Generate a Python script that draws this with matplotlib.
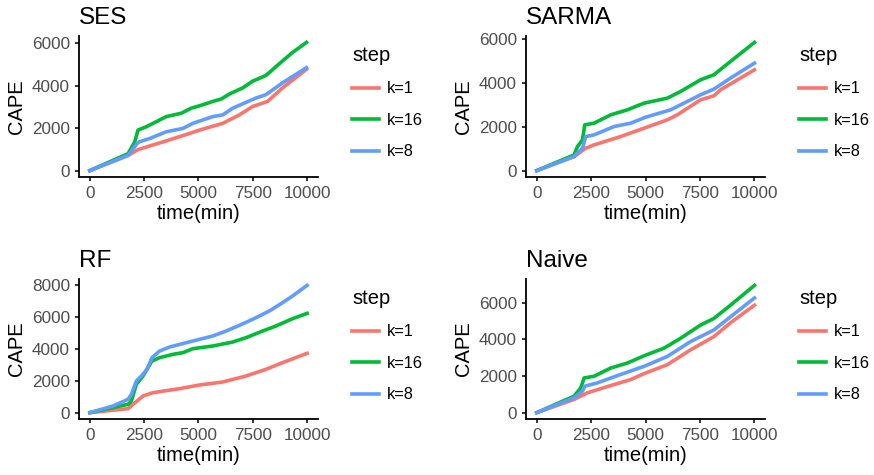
import matplotlib.pyplot as plt
from matplotlib.ticker import MultipleLocator

plt.rcParams['font.family'] = ['Liberation Sans', 'DejaVu Sans']

# ggplot default hue colours for 3 groups
step_labels = ['k=1', 'k=16', 'k=8']
step_colors = ['#F8766D', '#00BA38', '#619CFF']

# SES
ses_t1 = [0, 1758, 2216, 2600, 3517, 4587, 5046, 6116, 6881, 7492, 8180, 8869, 9969]
ses_v1 = [0, 714, 985, 1111, 1397, 1746, 1905, 2222, 2619, 3016, 3254, 3889, 4762]
ses_t16 = [0, 1758, 2064, 2216, 2600, 3517, 4205, 4664, 5046, 5657, 6040, 6422, 7034, 7492, 8104, 8869, 9327, 9969]
ses_v16 = [0, 795, 1349, 1905, 2063, 2540, 2698, 2936, 3047, 3254, 3365, 3603, 3889, 4206, 4476, 5159, 5556, 6031]
ses_t8 = [0, 1758, 2171, 2263, 2752, 3517, 4282, 4740, 5657, 6116, 6575, 7645, 8104, 8869, 9969]
ses_v8 = [0, 714, 1270, 1349, 1508, 1825, 1984, 2222, 2540, 2619, 2936, 3413, 3571, 4127, 4841]

# SARMA
sarma_t1 = [0, 1713, 2248, 2630, 3853, 4924, 5994, 6453, 7523, 8135, 8440, 10000]
sarma_v1 = [0, 638, 1018, 1170, 1549, 1929, 2309, 2537, 3220, 3402, 3676, 4587]
sarma_t16 = [0, 1713, 1865, 2095, 2202, 2630, 3394, 4159, 4924, 5994, 6606, 7523, 8135, 8899, 10000]
sarma_v16 = [0, 714, 1094, 1397, 2081, 2157, 2537, 2765, 3068, 3296, 3600, 4132, 4360, 4967, 5833]
sarma_t8 = [0, 1713, 2095, 2248, 2630, 3547, 4312, 5000, 6147, 7523, 8135, 8899, 10000]
sarma_v8 = [0, 638, 1018, 1549, 1625, 2005, 2157, 2430, 2765, 3448, 3706, 4208, 4891]

# RF
rf_t1 = [0, 1758, 1988, 2446, 2905, 4128, 5046, 6116, 7187, 8104, 8869, 10000]
rf_v1 = [0, 251, 523, 1047, 1256, 1508, 1738, 1926, 2303, 2722, 3141, 3727]
rf_t16 = [0, 1758, 1911, 2141, 2446, 2859, 3211, 3823, 4281, 4740, 5657, 6575, 7187, 7951, 8563, 9327, 10000]
rf_v16 = [0, 523, 733, 1780, 2303, 3246, 3455, 3665, 3769, 4020, 4188, 4439, 4711, 5130, 5444, 5905, 6240]
rf_t8 = [0, 1070, 1758, 1911, 2141, 2370, 2630, 2859, 3211, 3670, 4434, 5046, 5657, 6269, 6881, 7492, 8257, 8869, 9327, 10000]
rf_v8 = [0, 419, 838, 1152, 1989, 2303, 2722, 3455, 3874, 4125, 4397, 4607, 4816, 5130, 5486, 5863, 6387, 6910, 7329, 8000]

# Naive
naive_t1 = [0, 1713, 2324, 3394, 4312, 4924, 5994, 7064, 8135, 8899, 10000]
naive_v1 = [0, 723, 1084, 1482, 1807, 2132, 2620, 3433, 4156, 4915, 5873]
naive_t16 = [0, 1713, 2018, 2171, 2630, 3394, 4159, 4924, 5841, 6606, 7523, 8135, 8899, 10000]
naive_v16 = [0, 903, 1355, 1897, 1988, 2439, 2711, 3108, 3524, 4066, 4789, 5150, 5873, 6957]
naive_t8 = [0, 1713, 2095, 2202, 2783, 3700, 4924, 5994, 7064, 8135, 8899, 10000]
naive_v8 = [0, 813, 1175, 1446, 1626, 2024, 2530, 3072, 3885, 4518, 5240, 6270]

panels = [
    ('SES', [(ses_t1, ses_v1), (ses_t16, ses_v16), (ses_t8, ses_v8)]),
    ('SARMA', [(sarma_t1, sarma_v1), (sarma_t16, sarma_v16), (sarma_t8, sarma_v8)]),
    ('RF', [(rf_t1, rf_v1), (rf_t16, rf_v16), (rf_t8, rf_v8)]),
    ('Naive', [(naive_t1, naive_v1), (naive_t16, naive_v16), (naive_t8, naive_v8)]),
]

# axes boxes in figure fractions (left, bottom, width, height)
boxes = [
    (0.0904, 0.6274, 0.2734, 0.2968),
    (0.6018, 0.6274, 0.2739, 0.2968),
    (0.0904, 0.1179, 0.2734, 0.2947),
    (0.6018, 0.1179, 0.2739, 0.2947),
]

fig = plt.figure(figsize=(8.74, 4.75), dpi=100)

for (name, series), box in zip(panels, boxes):
    ax = fig.add_axes(box)
    for (t, v), lab, col in zip(series, step_labels, step_colors):
        ax.plot(t, v, color=col, lw=2.6, label=lab)

    ymax = max(max(v) for _, v in series)
    ax.set_xlim(-500, 10500)
    ax.set_ylim(-0.05 * ymax, 1.05 * ymax)
    ax.xaxis.set_major_locator(MultipleLocator(2500))
    ax.yaxis.set_major_locator(MultipleLocator(2000))

    for s in ['top', 'right']:
        ax.spines[s].set_visible(False)
    for s in ['left', 'bottom']:
        ax.spines[s].set_linewidth(1.3)
        ax.spines[s].set_color('black')
    ax.tick_params(length=3, width=1.1, color='black', labelsize=12.3,
                   labelcolor='#4D4D4D', pad=3.5)

    ax.set_xlabel('time(min)', fontsize=14.5, labelpad=2)
    ax.set_ylabel('CAPE', fontsize=14.5, labelpad=4)
    ax.set_title(name, loc='left', fontsize=17.5, pad=9, x=0.0)

    leg = ax.legend(title='step', loc='upper left', bbox_to_anchor=(1.115, 0.975),
                    frameon=False, fontsize=11.8, title_fontsize=14.5,
                    handlelength=1.65, handletextpad=0.45, labelspacing=1.0,
                    borderaxespad=0)
    leg._legend_box.align = 'left'

fig.savefig('out.png', dpi=100)
